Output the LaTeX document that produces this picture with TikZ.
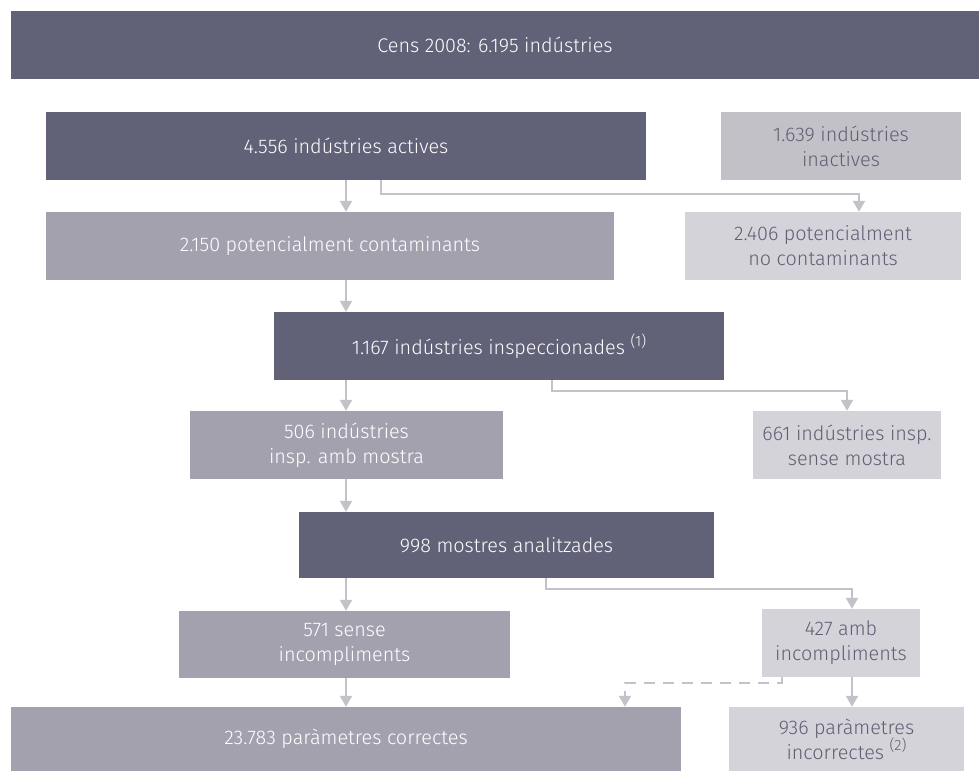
\documentclass[tikz,border=0pt]{standalone}
\usepackage{fontspec}
\setmainfont{Fira Sans}[UprightFont=* Light]
\usetikzlibrary{arrows.meta}

\definecolor{slate}{RGB}{97,98,120}
\definecolor{lilac}{RGB}{164,161,174}
\definecolor{ash}{RGB}{195,193,200}
\definecolor{mist}{RGB}{213,211,218}
\definecolor{wire}{RGB}{196,194,201}
\definecolor{ink}{RGB}{94,95,115}

\newcommand{\supnote}[1]{\raisebox{0.42em}{\fontsize{15}{15}\selectfont(#1)}}

\begin{document}
\begin{tikzpicture}[x=1pt, y=-1pt,
    font=\fontsize{19.8}{25}\selectfont,
    box/.style={inner sep=0pt, align=center},
    darkbox/.style={box, fill=slate, text=white},
    midbox/.style={box, fill=lilac, text=white},
    greybox/.style={box, fill=ash, text=ink},
    palebox/.style={box, fill=mist, text=ink},
    flow/.style={draw=wire, line width=2.2pt, -{Triangle[width=12pt,length=11pt]}}]
  \useasboundingbox (0,0) rectangle (979,771);

  % boxes
  \node[darkbox, minimum width=968pt, minimum height=68pt] (cens) at (495,45) {Cens 2008: 6.195 indústries};
  \node[darkbox, minimum width=600pt, minimum height=68pt] (act) at (346,146) {4.556 indústries actives};
  \node[greybox, minimum width=240pt, minimum height=68pt] (inact) at (841,146) {1.639 indústries\\inactives};
  \node[midbox, minimum width=568pt, minimum height=68pt] (pot) at (330,246) {2.150 potencialment contaminants};
  \node[palebox, minimum width=276pt, minimum height=68pt] (noct) at (823,246) {2.406 potencialment\\no contaminants};
  \node[darkbox, minimum width=450pt, minimum height=68pt] (insp) at (499,346) {1.167 indústries inspeccionades \supnote{1}};
  \node[midbox, minimum width=313pt, minimum height=68pt] (amb) at (346.5,445) {506 indústries\\insp. amb mostra};
  \node[palebox, minimum width=188pt, minimum height=68pt] (sense) at (847,445) {661 indústries insp.\\sense mostra};
  \node[darkbox, minimum width=415pt, minimum height=66pt] (mostres) at (506.5,545) {998 mostres analitzades};
  \node[midbox, minimum width=331pt, minimum height=67pt] (okmost) at (344.5,644.5) {571 sense\\incompliments};
  \node[palebox, minimum width=158pt, minimum height=68pt] (nomost) at (841,643) {427 amb\\incompliments};
  \node[midbox, minimum width=670pt, minimum height=64pt] (correct) at (346,739) {23.783 paràmetres correctes};
  \node[palebox, minimum width=235pt, minimum height=64pt] (incorr) at (846.5,739) {936 paràmetres\\incorrectes \supnote{2}};

  % connectors
  \draw[flow] (act.south) -- (act.south |- pot.north);
  \draw[flow] ([xshift=35pt]act.south) -- ++(0,14) -| ([xshift=36pt]noct.north);
  \draw[flow] (pot.south -| act.south) -- (insp.north -| act.south);
  \draw[flow] (insp.south -| act.south) -- (amb.north -| act.south);
  \draw[flow] ([xshift=53pt]insp.south) -- ++(0,11) -| (sense.north);
  \draw[flow] (amb.south -| act.south) -- (mostres.north -| act.south);
  \draw[flow] (mostres.south -| act.south) -- (okmost.north -| act.south);
  \draw[flow] ([xshift=39.5pt]mostres.south) -- ++(0,11) -| ([xshift=11pt]nomost.north);
  \draw[flow] (okmost.south -| act.south) -- (correct.north -| act.south);
  \draw[flow] ([xshift=11pt]nomost.south) -- ([xshift=11pt]nomost.south |- incorr.north);
  \draw[flow, dash pattern=on 11pt off 8pt] ([xshift=-59pt]nomost.south) -- ++(0,6) -| ([xshift=279pt]correct.north);
\end{tikzpicture}
\end{document}
